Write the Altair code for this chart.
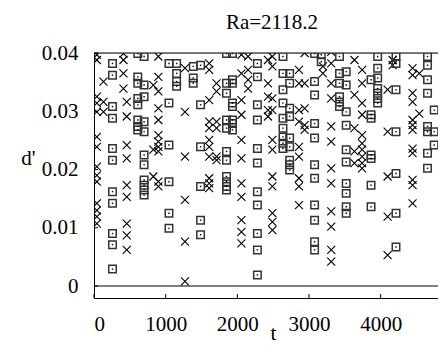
import altair as alt
import pandas as pd

# ---- data (t, d') ----
cross_cols_t = [40, 132, 411, 457, 828, 898, 1269, 1607, 1710, 2057, 2150, 2428,
                2489, 2860, 2939, 3194, 3310, 3634, 3741, 4097, 4167, 4445, 4539, 4900]
cross_cols_d = [
    [0.0397, 0.0388, 0.0325, 0.0314, 0.0299, 0.0256, 0.0239, 0.0205, 0.0190, 0.0179, 0.0142, 0.0130, 0.0119, 0.0107],
    [0.0351, 0.0316, 0.0299],
    [0.0399, 0.0388, 0.0365, 0.0339],
    [0.0316, 0.0291, 0.0242, 0.0219, 0.0173, 0.0153, 0.0107, 0.0087, 0.0062],
    [0.0345, 0.0234, 0.0188],
    [0.0394, 0.0359, 0.0334, 0.0305, 0.0285, 0.0259, 0.0248, 0.0239, 0.0231, 0.0179, 0.0171],
    [0.0374, 0.0299, 0.0222, 0.0148, 0.0076, 0.0008],
    [0.0382, 0.0371, 0.0319, 0.0282, 0.0271, 0.0251, 0.0239, 0.0222, 0.0185, 0.0176, 0.0168],
    [0.0348, 0.0334, 0.0282, 0.0271, 0.0222, 0.0216],
    [0.0397, 0.0365, 0.0319, 0.0294, 0.0251, 0.0219, 0.0176, 0.0153, 0.0113, 0.0093, 0.0073],
    [0.0394, 0.0371, 0.0354, 0.0339],
    [0.0388, 0.0348, 0.0325, 0.0302, 0.0291],
    [0.0394, 0.0377, 0.0322, 0.0302, 0.0251, 0.0234, 0.0188, 0.0171, 0.0125, 0.0110, 0.0096],
    [0.0371, 0.0348, 0.0302, 0.0282, 0.0239, 0.0222, 0.0185, 0.0171, 0.0139],
    [0.0400, 0.0348, 0.0305, 0.0276, 0.0268],
    [0.0377, 0.0365],
    [0.0402, 0.0382, 0.0348, 0.0322, 0.0274, 0.0248, 0.0202, 0.0176, 0.0128, 0.0102, 0.0062, 0.0042],
    [0.0388, 0.0328, 0.0271, 0.0231, 0.0211],
    [0.0371, 0.0348, 0.0314, 0.0294, 0.0259, 0.0245, 0.0234, 0.0222, 0.0211, 0.0202],
    [0.0337, 0.0265, 0.0188, 0.0119, 0.0053],
    [0.0388, 0.0379],
    [0.0374, 0.0362, 0.0331, 0.0316, 0.0285, 0.0276, 0.0268, 0.0236, 0.0228, 0.0182, 0.0173, 0.0142],
    [0.0365, 0.0296],
    [0.0357, 0.0348, 0.0328, 0.0291, 0.0265, 0.0222, 0.0202, 0.0159, 0.0142, 0.0110, 0.0105],
]

square_cols_t = [258, 611, 699, 1046, 1153, 1385, 1487, 1849, 1932, 2280, 2637, 2730,
                 3078, 3171, 3426, 3519, 3866, 3958, 4214, 4654, 4747]
square_cols_d = [
    [0.0382, 0.0362, 0.0308, 0.0288, 0.0236, 0.0216, 0.0162, 0.0142, 0.0090, 0.0071, 0.0029],
    [0.0399, 0.0359, 0.0348, 0.0322, 0.0311, 0.0285, 0.0274, 0.0268],
    [0.0394, 0.0345, 0.0325, 0.0282, 0.0265, 0.0225, 0.0208, 0.0182, 0.0173, 0.0165, 0.0156],
    [0.0382, 0.0314, 0.0242, 0.0179, 0.0125, 0.0099],
    [0.0382, 0.0365, 0.0351, 0.0343],
    [0.0377, 0.0357, 0.0348],
    [0.0379, 0.0311, 0.0239, 0.0171, 0.0113, 0.0088],
    [0.0399, 0.0348, 0.0331, 0.0285, 0.0271, 0.0231, 0.0216, 0.0188, 0.0179, 0.0171, 0.0165],
    [0.0399, 0.0354, 0.0348, 0.0314, 0.0308, 0.0285, 0.0279, 0.0268],
    [0.0382, 0.0359, 0.0311, 0.0285, 0.0236, 0.0211, 0.0162, 0.0139, 0.0090, 0.0062, 0.0019],
    [0.0394, 0.0365, 0.0337, 0.0314, 0.0288, 0.0271, 0.0256, 0.0245, 0.0236],
    [0.0365, 0.0348, 0.0305, 0.0291, 0.0254, 0.0239, 0.0216, 0.0208, 0.0199],
    [0.0399, 0.0351, 0.0328, 0.0279, 0.0254, 0.0208, 0.0185, 0.0139, 0.0113, 0.0076, 0.0062],
    [0.0397, 0.0385],
    [0.0394, 0.0365, 0.0348, 0.0325, 0.0316, 0.0308],
    [0.0368, 0.0345, 0.0299, 0.0276, 0.0234, 0.0213, 0.0176, 0.0159, 0.0136, 0.0125],
    [0.0354, 0.0294, 0.0288, 0.0225, 0.0219, 0.0173, 0.0136],
    [0.0394, 0.0374, 0.0357, 0.0339, 0.0331, 0.0322, 0.0314],
    [0.0394, 0.0382, 0.0337, 0.0265, 0.0193, 0.0125, 0.0067],
    [0.0394, 0.0379, 0.0354, 0.0331, 0.0274, 0.0265, 0.0228, 0.0202],
    [0.0302, 0.0265, 0.0242],
]

x_ticks = [0, 1000, 2000, 3000, 4000]
y_ticks = [0, 0.01, 0.02, 0.03, 0.04]
zero_line = [0]
top_line = [0.04]

x_domain = [0, 4800]
y_domain = [-0.00206, 0.04]

FONT = "Liberation Serif"
FS = 21


def flatten(ts, ds):
    rows = []
    for t, col in zip(ts, ds):
        for d in col:
            rows.append({"t": t, "d": d})
    return pd.DataFrame(rows)


crosses = flatten(cross_cols_t, cross_cols_d)
squares = flatten(square_cols_t, square_cols_d)

xs = alt.Scale(domain=x_domain, nice=False, zero=False)
ys = alt.Scale(domain=y_domain, nice=False, zero=False)

X_SHAPE = "M-1,-1L1,1M1,-1L-1,1"

base_x = alt.X("t:Q", scale=xs, title="t",
               axis=alt.Axis(values=x_ticks, format="d", ticks=False, grid=False,
                             domainColor="black", domainWidth=1,
                             labelFont=FONT, labelFontSize=FS, labelColor="black",
                             labelBaseline="alphabetic", labelPadding=32,
                             titleFont=FONT, titleFontSize=FS, titleFontWeight="normal",
                             titleColor="black", titleBaseline="alphabetic",
                             titleX=179, titleY=41))
base_y = alt.Y("d:Q", scale=ys, title="d'",
               axis=alt.Axis(values=y_ticks, ticks=False, grid=False,
                             labelExpr="datum.value == 0 ? '0' : format(datum.value, '.2f')",
                             domainColor="black", domainWidth=1,
                             labelFont=FONT, labelFontSize=FS, labelColor="black",
                             labelPadding=16, labelBaseline="middle",
                             titleFont=FONT, titleFontSize=FS, titleFontWeight="normal",
                             titleColor="black", titleAngle=0, titleX=-66, titleY=105,
                             titleAlign="center", titleBaseline="middle"))

zero = alt.Chart(pd.DataFrame({"d": zero_line})).mark_rule(
    color="black", strokeWidth=1).encode(y=alt.Y("d:Q", scale=ys))
top = alt.Chart(pd.DataFrame({"d": top_line})).mark_rule(
    color="black", strokeWidth=1).encode(y=alt.Y("d:Q", scale=ys))

xt = alt.Chart(pd.DataFrame({"t": x_ticks})).mark_rule(color="black", strokeWidth=1).encode(
    x=alt.X("t:Q", scale=xs), y=alt.value(245), y2=alt.value(241))
yt = alt.Chart(pd.DataFrame({"d": y_ticks})).mark_rule(color="black", strokeWidth=1).encode(
    y=alt.Y("d:Q", scale=ys), x=alt.value(0), x2=alt.value(4))

cross_layer = alt.Chart(crosses).mark_point(
    shape=X_SHAPE, filled=False, size=64, color="black", strokeWidth=1.1, opacity=1, clip=True
).encode(x=base_x, y=base_y)

square_layer = alt.Chart(squares).mark_point(
    shape="square", filled=False, size=56, color="#333333", strokeWidth=1.5, opacity=1, clip=True
).encode(x=alt.X("t:Q", scale=xs), y=alt.Y("d:Q", scale=ys))

dot_layer = alt.Chart(squares).mark_point(
    shape="square", filled=True, size=2, color="black", opacity=1, clip=True
).encode(x=alt.X("t:Q", scale=xs), y=alt.Y("d:Q", scale=ys))

chart = alt.layer(cross_layer, zero, top, square_layer, dot_layer, xt, yt).properties(
    width=344, height=245,
    title=alt.TitleParams("Ra=2118.2", font=FONT, fontSize=FS, fontWeight="normal",
                          color="black", anchor="middle", baseline="alphabetic",
                          offset=10, dx=6, dy=18),
    autosize=alt.AutoSizeParams(type="none"),
    padding={"left": 86, "top": 45, "right": 0, "bottom": 47},
).configure_view(stroke=None).configure(background="white")

chart.save("out.html", embed_options={"renderer": "svg", "actions": False})
